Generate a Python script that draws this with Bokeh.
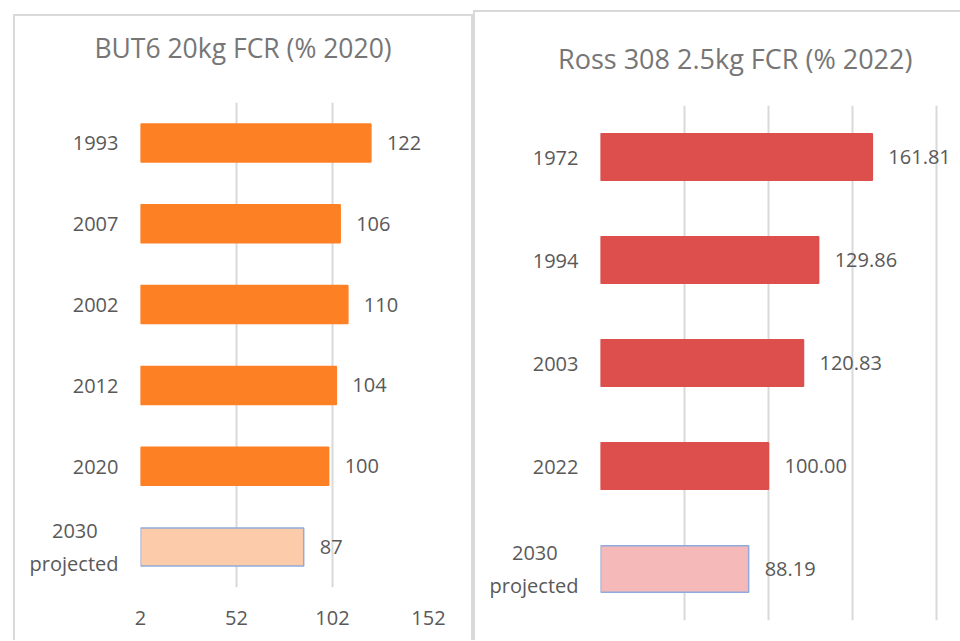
from bokeh.plotting import figure
from bokeh.layouts import row, column
from bokeh.models import FactorRange, Range1d, FixedTicker, ColumnDataSource, Div, Spacer
from bokeh.embed import file_html
from bokeh.resources import INLINE

# ---- data ----
but_title = "BUT6 20kg FCR (% 2020)"
but_cats = ["1993", "2007", "2002", "2012", "2020", "2030\u00a0\u00a0\u00a0\u00a0\nprojected"]
but_vals = [122, 106, 110, 104, 100, 87]
but_ticks = [2, 52, 102, 152]

ross_title = "Ross 308 2.5kg FCR (% 2022)"
ross_cats = ["1972", "1994", "2003", "2022", "2030\u00a0\u00a0\u00a0\u00a0\nprojected"]
ross_vals = [161.81, 129.86, 120.83, 100.00, 88.19]
ross_ticks = [0, 50, 100, 150, 200]

FONT = "Open Sans"
LABEL_C = "#595959"
TITLE_C = "#767676"
GRID_C = "#d9d9d9"
EDGE_C = "#d9d9d9"


def edge(w, h):
    return Div(text="", width=w, height=h, margin=0,
               styles={"background-color": EDGE_C})


def title_div(text, w, h, lh, size, align, indent):
    return Div(text=text, width=w, height=h, margin=0,
               styles={"font-family": FONT, "font-size": size, "color": TITLE_C,
                       "line-height": lh, "text-align": align, "text-indent": indent,
                       "white-space": "nowrap"})


def make_panel(cats, vals, ticks, x0, x1, bar_c, proj_c, fmt, frame_w, frame_h,
               ml, mr, mt, mb, bar_h, show_x):
    p = figure(y_range=FactorRange(*reversed(cats)), x_range=Range1d(x0, x1),
               frame_width=frame_w, frame_height=frame_h,
               min_border_left=ml, min_border_right=mr, min_border_top=mt, min_border_bottom=mb,
               output_backend="svg", toolbar_location=None, tools="",
               background_fill_color="white", border_fill_color="white", margin=0)
    p.outline_line_color = None
    colors = [bar_c] * (len(cats) - 1) + [proj_c]
    lines = [bar_c] * (len(cats) - 1) + ["#8faadc"]
    src = ColumnDataSource(dict(y=cats, v=vals, c=colors, lc=lines,
                                t=[fmt.format(v) for v in vals]))
    p.hbar(y="y", left=ticks[0], right="v", height=bar_h, fill_color="c",
           line_color="lc", line_width=1.5, source=src)
    p.text(x="v", y="y", text="t", source=src, x_offset=16, text_baseline="middle",
           text_align="left", text_color=LABEL_C, text_font_size="20px",
           text_font={"value": FONT})
    p.xaxis.ticker = FixedTicker(ticks=ticks)
    p.xgrid.ticker = FixedTicker(ticks=ticks)
    p.xgrid.grid_line_color = GRID_C
    p.xgrid.grid_line_width = 2
    p.ygrid.grid_line_color = None
    for ax in (p.xaxis[0], p.yaxis[0]):
        ax.axis_line_color = None
        ax.major_tick_line_color = None
        ax.minor_tick_line_color = None
        ax.major_label_text_color = LABEL_C
        ax.major_label_text_font = FONT
        ax.major_label_text_font_size = "20px"
    p.yaxis.major_label_standoff = 16
    p.xaxis.major_label_standoff = 17
    p.xaxis.visible = show_x
    return p


# left panel: content 456 wide, from y=16 to 640
left_fig = make_panel(but_cats, but_vals, but_ticks, 2, 152, "#fe8025", "#fccba9", "{:.0f}",
                      288, 485, 125, 43, 16, 53, 0.47, True)
left_title = title_div(but_title, 456, 70, "64px", "26.5px", "center", "0px")
left_block = column(
    Spacer(height=14, width=10),
    row(Spacer(width=13, height=10), edge(2, 626),
        column(edge(456, 2), left_title, left_fig),
        edge(2, 626)))

# right panel: content 485 wide, from y=12 to 640
right_fig = make_panel(ross_cats, ross_vals, ross_ticks, 0, 200 * 360 / 336, "#dd4f4d", "#f4b9b8",
                       "{:.2f}", 360, 515, 125, 0, 0, 20, 0.45, False)
right_title = title_div(ross_title, 485, 93, "94px", "27px", "left", "83px")
right_block = column(
    Spacer(height=10, width=10),
    row(edge(2, 630), column(edge(485, 2), right_title, right_fig)))

layout = row(left_block, right_block)
open("out.html", "w").write(file_html(layout, INLINE))
